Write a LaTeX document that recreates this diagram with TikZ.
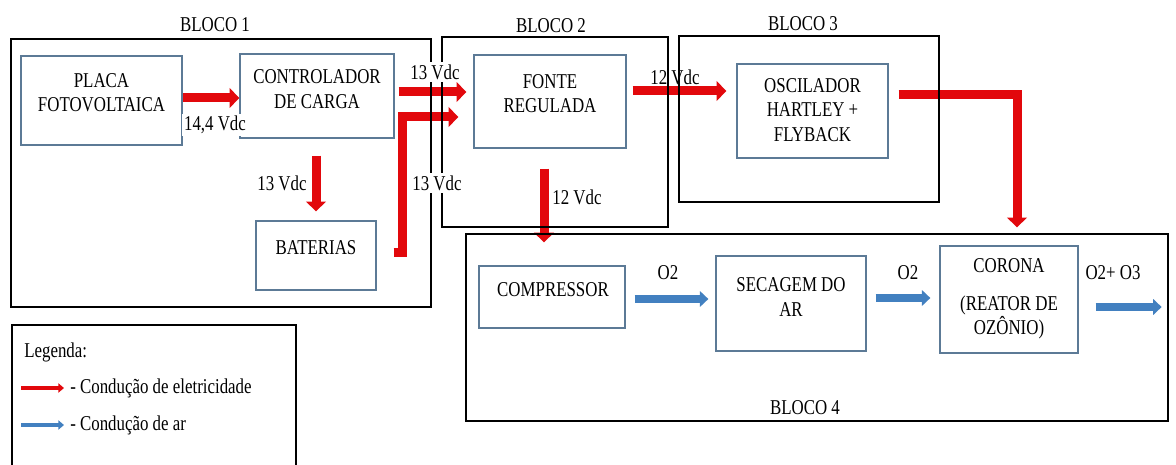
\documentclass[tikz,border=0pt]{standalone}
\usepackage{fontspec}
\setmainfont[FakeStretch=0.8]{Liberation Serif}
\usetikzlibrary{arrows.meta,calc,positioning,backgrounds}
\definecolor{ElecRed}{RGB}{226,8,12}
\definecolor{AirBlue}{RGB}{66,128,192}
\definecolor{BoxGray}{RGB}{92,122,150}

\begin{document}
\begin{tikzpicture}[x=0.025cm,y=-0.025cm,
    font=\fontsize{15}{17.5}\selectfont,
    bloco/.style={draw=black,line width=0.9pt},
    caixa/.style={draw=BoxGray,line width=0.9pt,fill=white,inner sep=0pt},
    txt/.style={align=center,inner sep=1pt},
    tensao/.style={fill=white,inner sep=1.5pt},
    elec/.style={line width=6.4pt,draw=ElecRed,
      -{Triangle[length=7pt,width=14pt]}},
    ar/.style={line width=5.4pt,draw=AirBlue,
      -{Triangle[length=6pt,width=11pt]}},
    elecS/.style={line width=2.6pt,draw=ElecRed,
      -{Triangle[length=4pt,width=6.5pt]}},
    arS/.style={line width=2.6pt,draw=AirBlue,
      -{Triangle[length=4pt,width=6.5pt]}}]
  \useasboundingbox (0,0) rectangle (1176,465);

  % blocos
  \draw[bloco] (11,39) rectangle (431,307);
  \draw[bloco] (442,37) rectangle (668,227);
  \draw[bloco] (679,36) rectangle (939,202);
  \draw[bloco] (466,234) rectangle (1168,421);
  \draw[bloco] (12,470) -- (12,325) -- (296,325) -- (296,470);
  \node (b1) at (215,25) {BLOCO 1};
  \node (b2) at (551,26) {BLOCO 2};
  \node (b3) at (803,24) {BLOCO 3};
  \node (b4) at (805,408) {BLOCO 4};

  % caixas
  \node[caixa,minimum width=4.025cm,minimum height=2.225cm] (placa) at (101.5,100.5) {};
  \node[caixa,minimum width=3.85cm,minimum height=2.1cm] (ctrl) at (317,96) {};
  \node[caixa,minimum width=3cm,minimum height=1.725cm] (bat) at (316,255.5) {};
  \node[caixa,minimum width=3.8cm,minimum height=2.325cm] (fonte) at (550,101.5) {};
  \node[caixa,minimum width=3.775cm,minimum height=2.35cm] (osc) at (812.5,111) {};
  \node[caixa,minimum width=3.65cm,minimum height=1.55cm] (comp) at (552,297) {};
  \node[caixa,minimum width=3.75cm,minimum height=2.375cm] (sec) at (791,303.5) {};
  \node[caixa,minimum width=3.45cm,minimum height=2.675cm] (cor) at (1009,299.5) {};

  \node[txt] (tPlaca) at (101.5,92.5) {PLACA\\FOTOVOLTAICA};
  \node[txt] (tCtrl) at (317,89) {CONTROLADOR\\DE CARGA};
  \node[txt] (tBat) at (316,248) {BATERIAS};
  \node[txt] (tFonte) at (550,93.5) {FONTE\\REGULADA};
  \node[txt] (tOsc) at (812.5,110) {OSCILADOR\\HARTLEY +\\FLYBACK};
  \node[txt] (tComp) at (553,290) {COMPRESSOR};
  \node[txt] (tSec) at (791,297) {SECAGEM DO\\AR};
  \node[txt] (tCor) at (1009,299) {CORONA\\[9pt](REATOR DE\\OZÔNIO)};

  % conexoes
  \begin{scope}[on background layer]
    \draw[elec] ($(placa.east)+(0,-2.5)$) coordinate (e1) -- (e1 -| ctrl.west);
    \draw[elec] ($(ctrl.east)+(4,-4)$) coordinate (e2)
      -- ($(e2 -| fonte.west)+(-7,0)$);
    \draw[elec,-{Triangle[length=7pt,width=14pt]}]
      ($(bat.east)+(17,-3)$) coordinate (e3) -- ++(9,0)
      |- ($(fonte.west)+(-15,15.5)$);
    \draw[elec] ($(ctrl.south)+(-1,17)$) coordinate (e4)
      -- ($(e4 |- bat.north)+(0,-9)$);
    \draw[elec] ($(fonte.east)+(6,-10.5)$) coordinate (e5)
      -- ($(e5 -| osc.west)+(-10,0)$);
    \draw[elec] ($(fonte.south)+(-6,20)$) coordinate (e6)
      -- ($(e6 |- comp.north)+(0,-23)$);
    \draw[elec] ($(osc.east)+(10,-16)$) -| ($(cor.north)+(8,-18)$);
    \draw[ar] ($(comp.east)+(9,2)$) coordinate (a1) -- ($(a1 -| sec.west)+(-7,0)$);
    \draw[ar] ($(sec.east)+(9,-5.5)$) coordinate (a2) -- ($(a2 -| cor.west)+(-9,0)$);
    \draw[ar] ($(cor.east)+(17,7.5)$) coordinate (a3) -- ++(66,0) coordinate (saida);
  \end{scope}

  % tensoes
  \node[tensao] (v1) at (215,125) {14,4 Vdc};
  \node[tensao] (v2) at (282,183) {13 Vdc};
  \node[tensao] (v3) at (435,72) {13 Vdc};
  \node[tensao] (v4) at (437,183) {13 Vdc};
  \node[inner sep=1pt] (v5) at (675,77) {12 Vdc};
  \node[tensao] (v6) at (577,197) {12 Vdc};
  \node (o1) at (668,273) {O2};
  \node (o2) at (908,273) {O2};
  \node (o3) at (1113,273) {O2+ O3};

  % legenda
  \node[anchor=west,inner sep=0pt] (leg) at (24,352) {Legenda:};
  \node[anchor=west,inner sep=0pt] (leg1) at (70,388) {- Condução de eletricidade};
  \node[anchor=west,inner sep=0pt] (leg2) at (70,425) {- Condução de ar};
  \coordinate (l1) at (21,388);
  \coordinate (l2) at (21,425);
  \draw[elecS] (l1) -- ($(leg1.west)+(-6,0)$);
  \draw[arS] (l2) -- ($(leg2.west)+(-6,0)$);
\end{tikzpicture}
\end{document}
